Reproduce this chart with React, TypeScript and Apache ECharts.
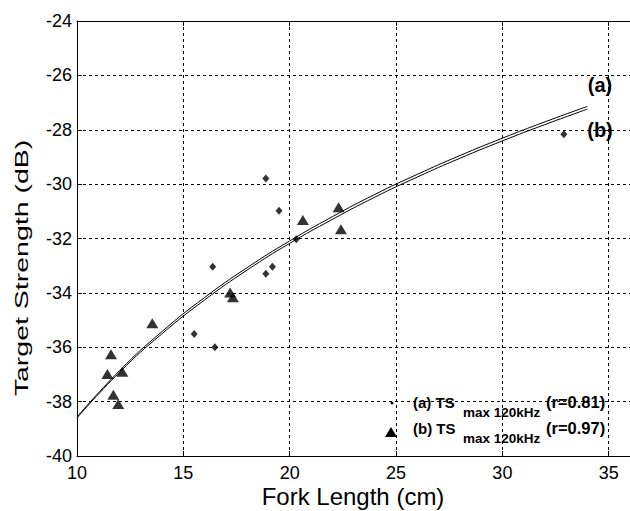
import React, { useEffect, useRef } from "react";
import * as echarts from "echarts";

const FIT_LENGTHS = [10, 12, 14, 16, 18, 20, 22, 24, 26, 28, 30, 32, 34];
const FIT_A = [-38.57, -36.86, -35.42, -34.17, -33.07, -32.09, -31.2, -30.38, -29.64, -28.95, -28.31, -27.71, -27.14];
const FIT_B = [-38.6, -36.92, -35.5, -34.26, -33.16, -32.18, -31.3, -30.48, -29.74, -29.05, -28.41, -27.81, -27.24];

const DIAMOND_X = [15.51, 16.38, 16.48, 18.88, 18.88, 19.19, 19.5, 20.31, 32.89];
const DIAMOND_Y = [-35.51, -33.04, -36.0, -29.79, -33.3, -33.04, -30.98, -32.03, -28.17];

const TRIANGLE_X = [11.43, 11.6, 11.71, 11.94, 12.13, 13.54, 17.2, 17.33, 20.62, 22.3, 22.41];
const TRIANGLE_Y = [-36.98, -36.26, -37.75, -38.09, -36.9, -35.12, -33.99, -34.16, -31.32, -30.85, -31.66];

const X_TICKS = [10, 15, 20, 25, 30, 35];
const Y_TICKS = [-40, -38, -36, -34, -32, -30, -28, -26, -24];

const FONT = "Liberation Sans, Arial, sans-serif";

export default function App() {
  const ref = useRef<HTMLDivElement>(null);
  useEffect(() => {
    if (!ref.current) return;
    const chart = echarts.init(ref.current, undefined, { renderer: "svg" });
    const zip = (xs: number[], ys: number[]) => xs.map((x, i) => [x, ys[i]]);
    const xBase = {
      type: "value",
      min: X_TICKS[0],
      max: 36,
      interval: 5,
    };
    const option: any = {
      animation: false,
      backgroundColor: "#fff",
      grid: { left: 77, top: 21, right: 0, bottom: 55 },
      xAxis: [
        {
          ...xBase,
          position: "bottom",
          axisLine: { show: true, onZero: false, lineStyle: { color: "#000", width: 1 } },
          axisTick: { show: true, inside: true, length: 5, lineStyle: { color: "#000" } },
          axisLabel: {
            showMaxLabel: false,
            color: "#000",
            fontSize: 18,
            fontFamily: FONT,
            margin: 8,
          },
          splitLine: { show: true, lineStyle: { color: "#000", type: [3, 3], width: 1 } },
        },
        {
          ...xBase,
          position: "top",
          axisLine: { show: true, onZero: false, lineStyle: { color: "#000", width: 1 } },
          axisTick: { show: true, inside: true, length: 5, lineStyle: { color: "#000" } },
          axisLabel: { show: false },
          splitLine: { show: false },
        },
      ],
      yAxis: {
        type: "value",
        min: Y_TICKS[0],
        max: Y_TICKS[Y_TICKS.length - 1],
        interval: 2,
        axisLine: { show: true, onZero: false, lineStyle: { color: "#000", width: 1 } },
        axisTick: { show: true, inside: true, length: 5, lineStyle: { color: "#000" } },
        axisLabel: {
          color: "#000",
          fontSize: 18,
          fontFamily: FONT,
          margin: 5,
        },
        splitLine: { show: true, lineStyle: { color: "#000", type: [3, 3], width: 1 } },
      },
      series: [
        {
          type: "line",
          data: zip(FIT_LENGTHS, FIT_A),
          smooth: true,
          symbol: "none",
          lineStyle: { color: "#000", width: 1 },
          z: 3,
        },
        {
          type: "line",
          data: zip(FIT_LENGTHS, FIT_B),
          smooth: true,
          symbol: "none",
          lineStyle: { color: "#000", width: 1 },
          z: 3,
        },
        {
          type: "scatter",
          data: zip(DIAMOND_X, DIAMOND_Y),
          symbol: "diamond",
          symbolSize: [7, 8],
          itemStyle: { color: "#000" },
          z: 4,
        },
        {
          type: "scatter",
          data: zip(TRIANGLE_X, TRIANGLE_Y),
          symbol: "triangle",
          symbolSize: [12, 10],
          itemStyle: { color: "#000" },
          z: 4,
        },
      ],
      graphic: [
        {
          type: "text",
          x: 21,
          y: 268,
          rotation: Math.PI / 2,
          scaleX: 1.5,
          style: {
            text: "Target Strength (dB)",
            fontSize: 19,
            fontFamily: FONT,
            fill: "#000",
            align: "center",
            verticalAlign: "middle",
          },
        },
        {
          type: "text",
          x: 353,
          y: 496,
          style: {
            text: "Fork Length (cm)",
            fontSize: 24,
            fontFamily: FONT,
            fill: "#000",
            align: "center",
            verticalAlign: "middle",
          },
        },
        {
          type: "text",
          x: 600,
          y: 85,
          style: { text: "(a)", fontSize: 20, fontWeight: "bold", fontFamily: FONT, fill: "#000", align: "center", verticalAlign: "middle" },
        },
        {
          type: "text",
          x: 600,
          y: 130,
          style: { text: "(b)", fontSize: 20, fontWeight: "bold", fontFamily: FONT, fill: "#000", align: "center", verticalAlign: "middle" },
        },
        { type: "circle", shape: { cx: 392, cy: 403, r: 1.5 }, style: { fill: "#000" } },
        { type: "polygon", shape: { points: [[391, 427], [385, 437], [397, 437]] }, style: { fill: "#000" } },
        { type: "text", x: 413, y: 402, style: { text: "(a) TS", fontSize: 15, fontWeight: "bold", fontFamily: FONT, fill: "#000", verticalAlign: "middle" } },
        { type: "text", x: 463, y: 412, style: { text: "max 120kHz", fontSize: 13.5, fontWeight: "bold", fontFamily: FONT, fill: "#000", verticalAlign: "middle" } },
        { type: "text", x: 546, y: 402, style: { text: "(r=0.81)", fontSize: 16.5, fontWeight: "bold", fontFamily: FONT, fill: "#000", verticalAlign: "middle" } },
        { type: "text", x: 413, y: 428, style: { text: "(b) TS", fontSize: 15, fontWeight: "bold", fontFamily: FONT, fill: "#000", verticalAlign: "middle" } },
        { type: "text", x: 463, y: 438, style: { text: "max 120kHz", fontSize: 13.5, fontWeight: "bold", fontFamily: FONT, fill: "#000", verticalAlign: "middle" } },
        { type: "text", x: 546, y: 428, style: { text: "(r=0.97)", fontSize: 16.5, fontWeight: "bold", fontFamily: FONT, fill: "#000", verticalAlign: "middle" } },
      ],
    };
    chart.setOption(option);
    return () => chart.dispose();
  }, []);
  return <div ref={ref} style={{ position: "fixed", left: 0, top: 0, width: 630, height: 511 }} />;
}
